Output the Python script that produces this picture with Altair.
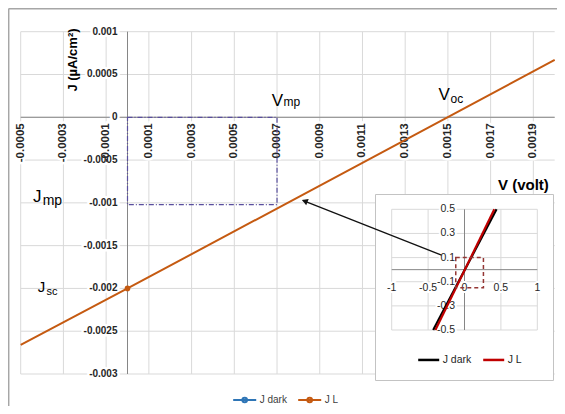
import altair as alt
import pandas as pd

# ---------------- data ----------------
# main chart: J L series (J in uA/cm2, V in volt)
V_L = [-0.0005, 0.0, 0.002]
J_L = [-0.00266, -0.002, 0.00067]
MARK_V = [0.0]
MARK_J = [-0.002]
VMP = 0.0007
JMP = -0.00102
ARROW_V = [0.00082, 0.00147]   # tip, tail
ARROW_J = [-0.00097, -0.00161]

main_x_ticks = [-0.0005, -0.0003, -0.0001, 0.0001, 0.0003, 0.0005, 0.0007,
                0.0009, 0.0011, 0.0013, 0.0015, 0.0017, 0.0019]
main_x_labels = ["-0.0005", "-0.0003", "-0.0001", "0.0001", "0.0003", "0.0005",
                 "0.0007", "0.0009", "0.0011", "0.0013", "0.0015", "0.0017", "0.0019"]
main_y_ticks = [0.001, 0.0005, 0.0, -0.0005, -0.001, -0.0015, -0.002, -0.0025, -0.003]
main_y_labels = ["0.001", "0.0005", "0", "-0.0005", "-0.001", "-0.0015", "-0.002",
                 "-0.0025", "-0.003"]

# inset
inset_V_dark = [-0.43, 0.44]
inset_J_dark = [-0.5, 0.5]
inset_V_L = [-0.40, 0.41]
inset_J_L = [-0.5, 0.5]
inset_x_ticks = [-1, -0.5, 0, 0.5, 1]
inset_x_labels = ["-1", "-0.5", "0", "0.5", "1"]
inset_y_ticks = [0.5, 0.3, 0.1, -0.1, -0.3, -0.5]
inset_y_labels = ["0.5", "0.3", "0.1", "-0.1", "-0.3", "-0.5"]
inset_box_V = [-0.12, 0.26]
inset_box_J = [0.10, -0.15]

series_names = ["J dark", "J L"]
inset_series = ["dark", "L"]      # shown as "J dark", "J L"

# ---------------- styling ----------------
FONT = "Liberation Sans"
BLUE = "#2E75B6"
ORANGE = "#C55A11"
GRID = "#d9d9d9"
AXISC = "#868686"
TXT = "#262626"
W, H = 534, 342.3

MX = alt.Scale(domain=[-0.0005, 0.002], range=[0, W], nice=False, zero=False)
MY = alt.Scale(domain=[-0.003, 0.001], range=[H, 0], nice=False, zero=False)
IX = alt.Scale(domain=[-1, 1], range=[371.0, 516.6], nice=False, zero=False)
IY = alt.Scale(domain=[-0.5, 0.5], range=[298.3, 177.6], nice=False, zero=False)


def X(f, s):
    return alt.X(f, type="quantitative", scale=s, axis=None)


def Y(f, s):
    return alt.Y(f, type="quantitative", scale=s, axis=None)


layers = []

# ---- main grid ----
dmx = pd.DataFrame({"V": main_x_ticks, "lab": main_x_labels, "J0": 0.0})
dmy = pd.DataFrame({"J": main_y_ticks, "lab": main_y_labels, "V0": 0.0})
layers.append(alt.Chart(dmy).mark_rule(color=GRID, strokeWidth=1).encode(y=Y("J", MY)))
layers.append(alt.Chart(dmx).mark_rule(color=GRID, strokeWidth=1).encode(x=X("V", MX)))
layers.append(alt.Chart(pd.DataFrame({"J": [0.0]})).mark_rule(color=AXISC, strokeWidth=1).encode(y=Y("J", MY)))
layers.append(alt.Chart(pd.DataFrame({"V": [0.0]})).mark_rule(color=AXISC, strokeWidth=1).encode(x=X("V", MX)))

# ---- main tick labels (with white backing) ----
for halo in (True, False):
    kw = dict(fill="white", stroke="white", strokeWidth=5) if halo else dict(fill=TXT)
    layers.append(alt.Chart(dmx).mark_text(angle=270, align="right", baseline="middle", yOffset=6,
                                           font=FONT, fontSize=11.5, fontWeight="bold", **kw)
                  .encode(x=X("V", MX), y=Y("J0", MY), text="lab:N"))
    layers.append(alt.Chart(dmy).mark_text(align="right", baseline="middle", xOffset=-10,
                                           font=FONT, fontSize=10, fontWeight="bold", **kw)
                  .encode(x=X("V0", MX), y=Y("J", MY), text="lab:N"))

# ---- Vmp / Jmp rectangle ----
drect = pd.DataFrame({"V": [0.0], "V2": [VMP], "J": [0.0], "J2": [JMP]})
layers.append(alt.Chart(drect).mark_rect(filled=False, stroke="#5a4f9e", strokeWidth=1.2,
                                         strokeDash=[5, 2, 1, 2])
              .encode(x=X("V", MX), x2="V2", y=Y("J", MY), y2="J2"))

# ---- J L line + marker ----
dl = pd.DataFrame({"V": V_L, "J": J_L, "s": "J L"})
layers.append(alt.Chart(dl).mark_line(strokeWidth=2).encode(
    x=X("V", MX), y=Y("J", MY),
    color=alt.Color("s:N", scale=alt.Scale(domain=series_names, range=[BLUE, ORANGE]),
                    legend=alt.Legend(orient="none", legendX=211, legendY=355, direction="horizontal",
                                      title=None, padding=0, symbolSize=530,
                                      symbolType="M-1,0L1,0M-0.2,0A0.2,0.2,0,1,1,0.2,0A0.2,0.2,0,1,1,-0.2,0",
                                      symbolStrokeWidth=2, labelFont=FONT, labelFontSize=10,
                                      labelColor="#404040", labelOffset=2, columnPadding=6))))
dm = pd.DataFrame({"V": MARK_V, "J": MARK_J})
layers.append(alt.Chart(dm).mark_point(filled=True, size=32, opacity=1, color=ORANGE).encode(
    x=X("V", MX), y=Y("J", MY)))

# ---- annotations ----
def note(txt, x, y, size, weight="normal", angle=0, align="left", baseline="alphabetic"):
    return alt.Chart(pd.DataFrame({"t": [txt]})).mark_text(
        font=FONT, fontSize=size, fontWeight=weight, angle=angle, align=align,
        baseline=baseline, color="#000000").encode(x=alt.value(x), y=alt.value(y), text="t:N")

layers += [
    note("V", 251, 74.3, 17), note("mp", 262.8, 73.8, 12),
    note("V", 417.8, 68.6, 17), note("oc", 429.8, 71.3, 12),
    note("J", 12.3, 170.3, 17), note("mp", 22.0, 173.3, 14),
    note("J", 17.0, 260, 15), note("sc", 25.8, 263.3, 11),
    note("V (volt)", 477.3, 158.3, 15, "bold"),
    note("J (µA/cm²)", 51.8, 28.3, 13, "bold", angle=270, align="center", baseline="middle"),
]

# ---- outer frame (top & left) ----
layers.append(alt.Chart(pd.DataFrame({"a": [0]})).mark_rule(color="#a6a6a6", strokeWidth=1.5).encode(
    x=alt.value(-12.2), x2=alt.value(W + 3), y=alt.value(-23.0)))
layers.append(alt.Chart(pd.DataFrame({"a": [0]})).mark_rule(color="#a6a6a6", strokeWidth=1.5).encode(
    x=alt.value(-12.0), y=alt.value(-23.0), y2=alt.value(H + 40)))

# ---------------- inset ----------------
layers.append(alt.Chart(pd.DataFrame({"a": [0]})).mark_rect(fill="white", stroke="#c3c3c3", strokeWidth=1).encode(
    x=alt.value(354.8), x2=alt.value(532.8), y=alt.value(162.8), y2=alt.value(348.8)))

dix = pd.DataFrame({"V": inset_x_ticks, "lab": inset_x_labels, "Jlo": -0.5, "Jhi": 0.5, "J0": 0.0})
diy = pd.DataFrame({"J": inset_y_ticks, "lab": inset_y_labels, "Vlo": -1.0, "Vhi": 1.0, "V0": 0.0})
layers.append(alt.Chart(dix).mark_rule(color=GRID, strokeWidth=1).encode(x=X("V", IX), y=Y("Jlo", IY), y2="Jhi"))
layers.append(alt.Chart(diy).mark_rule(color=GRID, strokeWidth=1).encode(y=Y("J", IY), x=X("Vlo", IX), x2="Vhi"))
layers.append(alt.Chart(pd.DataFrame({"J": [0.0], "Vlo": [-1.0], "Vhi": [1.0]})).mark_rule(color=AXISC).encode(
    y=Y("J", IY), x=X("Vlo", IX), x2="Vhi"))
layers.append(alt.Chart(pd.DataFrame({"V": [0.0], "Jlo": [-0.5], "Jhi": [0.5]})).mark_rule(color=AXISC).encode(
    x=X("V", IX), y=Y("Jlo", IY), y2="Jhi"))

for halo in (True, False):
    kw = dict(fill="white", stroke="white", strokeWidth=4) if halo else dict(fill=TXT)
    layers.append(alt.Chart(dix).mark_text(align="center", baseline="middle", yOffset=18,
                                           font=FONT, fontSize=10.5, **kw)
                  .encode(x=X("V", IX), y=Y("J0", IY), text="lab:N"))
    layers.append(alt.Chart(diy).mark_text(align="right", baseline="middle", xOffset=-9.5,
                                           font=FONT, fontSize=10.5, **kw)
                  .encode(x=X("V0", IX), y=Y("J", IY), text="lab:N"))

dil = pd.concat([
    pd.DataFrame({"V": inset_V_dark, "J": inset_J_dark, "si": inset_series[0]}),
    pd.DataFrame({"V": inset_V_L, "J": inset_J_L, "si": inset_series[1]}),
])
layers.append(alt.Chart(dil).mark_line(strokeWidth=2.2).encode(
    x=X("V", IX), y=Y("J", IY), detail="si:N",
    stroke=alt.Stroke("si:N", scale=alt.Scale(domain=inset_series, range=["#000000", "#C00000"]),
                      legend=alt.Legend(orient="none", legendX=396, legendY=316, direction="horizontal",
                                        title=None, padding=0, symbolType="stroke", symbolSize=441,
                                        symbolStrokeWidth=2.5, labelFont=FONT, labelFontSize=10.5,
                                        labelExpr="'J ' + datum.label",
                                        labelColor="#262626", labelOffset=2, columnPadding=6))))

dbox = pd.DataFrame({"V": [inset_box_V[0]], "V2": [inset_box_V[1]], "J": [inset_box_J[0]], "J2": [inset_box_J[1]]})
layers.append(alt.Chart(dbox).mark_rect(filled=False, stroke="#943634", strokeWidth=1.5, strokeDash=[4, 3])
              .encode(x=X("V", IX), x2="V2", y=Y("J", IY), y2="J2"))

# ---- arrow (main coordinates) ----
darr = pd.DataFrame({"V": [ARROW_V[0]], "V2": [ARROW_V[1]], "J": [ARROW_J[0]], "J2": [ARROW_J[1]]})
layers.append(alt.Chart(darr).mark_rule(color="#111111", strokeWidth=1.3).encode(
    x=X("V", MX), x2="V2", y=Y("J", MY), y2="J2"))
layers.append(alt.Chart(darr).mark_point(shape="triangle", filled=True, size=45, angle=292,
                                         color="#111111", opacity=1, xOffset=3, yOffset=1.2)
              .encode(x=X("V", MX), y=Y("J", MY)))

chart = alt.layer(*layers).resolve_scale(x="independent", y="independent").properties(
    width=W, height=H,
    autosize=alt.AutoSizeParams(type="none"),
    padding={"left": 12.7, "top": 23.7, "right": 2.3, "bottom": 32},
).configure_view(stroke=None)

chart.save("out.html", embed_options={"renderer": "svg", "actions": False})
